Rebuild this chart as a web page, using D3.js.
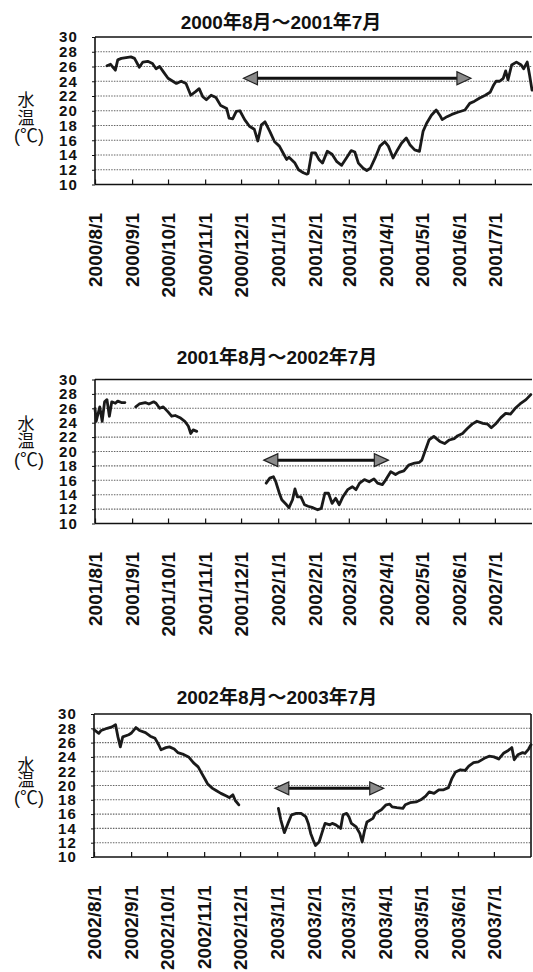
<!DOCTYPE html>
<html><head><meta charset="utf-8">
<script src="https://cdn.jsdelivr.net/npm/d3@7"></script>
<style>
html,body{margin:0;padding:0;background:#fff;}
svg{display:block;}
text{font-family:"Liberation Sans",Arial,"Noto Sans CJK JP",sans-serif;font-weight:bold;fill:#111;}
</style></head><body>
<svg id="chart" width="533" height="972"></svg>
<script>
// Water temperature, one panel per season (August to July)
const seasonTitles = ["2000年8月～2001年7月", "2001年8月～2002年7月", "2002年8月～2003年7月"];
const seasonStarts = ["2000-08-01", "2001-08-01", "2002-08-01"];
const yTicks = [10, 12, 14, 16, 18, 20, 22, 24, 26, 28, 30];

// Days since 1 August; a null temperature marks missing records
const days2000 = [10,13,17,19,22,26,30,33,37,40,44,48,51,54,57,61,65,68,72,76,80,84,87,90,93,97,101,105,110,112,115,118,121,125,129,133,136,139,142,146,150,154,157,160,162,167,170,174,177,178,181,184,187,190,194,198,202,206,210,214,217,220,224,227,230,234,238,242,245,249,252,256,260,263,267,271,274,277,281,285,288,290,294,298,303,309,313,317,321,326,330,333,335,338,341,343,345,348,352,356,358,361,363,365];
const temp2000 = [26.1,26.3,25.5,26.9,27.1,27.2,27.3,27.1,25.9,26.6,26.7,26.4,25.7,26.0,25.3,24.4,24.0,23.7,24.0,23.7,22.1,22.6,23.0,21.9,21.5,22.1,21.8,20.7,20.3,19.0,18.9,19.9,20.0,18.8,17.9,17.5,15.9,18.1,18.5,17.2,15.8,15.2,14.3,13.4,13.7,12.9,12.0,11.6,11.4,11.5,14.3,14.3,13.4,12.9,14.5,14.1,13.1,12.6,13.6,14.6,14.4,12.9,12.2,11.9,12.2,13.6,15.2,15.8,15.2,13.6,14.5,15.6,16.3,15.4,14.7,14.5,17.2,18.3,19.4,20.1,19.4,18.8,19.2,19.5,19.8,20.1,21.0,21.3,21.7,22.1,22.5,23.5,24.0,24.0,24.4,25.4,24.2,26.2,26.6,26.2,25.7,26.6,24.8,22.8];

const days2001 = [0,1,4,6,8,10,12,14,17,19,22,25,30,34,37,42,45,49,51,54,57,61,64,67,71,75,78,80,82,85,110,143,146,149,151,154,156,160,162,165,167,169,172,175,178,182,186,189,192,195,198,201,204,207,211,215,218,221,225,229,233,236,240,243,247,251,254,258,262,267,271,273,276,279,283,288,292,296,300,303,307,311,315,319,324,328,331,335,339,343,347,351,355,360,364];
const temp2001 = [26.0,24.2,26.2,24.2,26.9,27.2,24.9,26.9,26.7,27.0,26.8,26.8,null,26.2,26.6,26.8,26.6,26.9,26.7,26.0,26.2,25.5,24.9,25.0,24.7,24.2,23.5,22.5,23.0,22.8,null,15.6,16.3,16.5,15.8,14.2,13.3,12.6,12.2,13.3,14.8,13.7,13.7,12.6,12.4,12.2,11.9,12.1,14.2,14.2,12.8,13.5,12.6,13.7,14.7,15.1,14.7,15.6,16.1,15.8,16.2,15.6,15.4,16.1,17.2,16.8,17.1,17.3,18.1,18.4,18.5,18.8,20.2,21.6,22.1,21.4,21.1,21.6,21.8,22.2,22.5,23.2,23.8,24.2,23.9,23.8,23.3,23.9,24.7,25.3,25.2,26.0,26.6,27.2,27.9];

const days2002 = [0,4,6,11,15,18,20,22,24,29,31,35,38,43,47,51,54,56,60,63,67,70,74,79,83,87,90,93,95,99,102,106,111,113,116,118,121,135,154,156,159,162,165,169,173,177,179,181,183,185,188,191,193,197,199,202,206,208,211,213,215,219,222,224,226,228,233,235,240,244,247,249,253,258,260,264,269,273,277,280,284,288,292,296,299,302,306,310,313,317,321,326,330,334,338,342,346,349,351,354,358,360,363,365];
const temp2002 = [27.8,27.3,27.7,28.0,28.2,28.5,26.8,25.4,26.8,27.1,27.3,28.1,27.7,27.4,26.9,26.6,25.7,25.0,25.3,25.4,25.1,24.6,24.4,24.0,23.2,22.6,21.7,20.8,20.2,19.6,19.3,18.9,18.5,18.3,18.7,17.9,17.3,null,16.8,15.2,13.4,14.7,15.9,16.1,16.1,15.6,14.7,13.3,12.4,11.6,12.1,13.7,14.7,14.5,14.7,14.5,14.0,15.9,16.1,15.6,14.7,14.2,13.3,12.1,13.7,14.9,15.4,16.1,16.6,17.3,17.4,17.0,16.9,16.8,17.3,17.6,17.7,18.0,18.5,19.1,18.9,19.4,19.4,19.7,21.0,21.9,22.2,22.1,22.7,23.2,23.3,23.8,24.1,24.0,23.7,24.5,24.9,25.3,23.6,24.3,24.6,24.5,25.1,25.7];

// Double-headed arrows marking the cold-water period
const arrowFrom = ["2000-12-03", "2001-12-20", "2002-12-30"];
const arrowTo = ["2001-06-11", "2002-04-03", "2003-03-31"];
const arrowLevel = [24.4, 18.8, 19.6];

const seasonDays = [days2000, days2001, days2002];
const seasonTemps = [temp2000, temp2001, temp2002];

// Panel geometry
const panels = [
  {left: 95, right: 532, top: 37, bottom: 184.5, titleX: 281, titleY: 29, labY: [100, 117.5, 135.5], rightBorder: false},
  {left: 95, right: 532, top: 379.5, bottom: 523.5, titleX: 277, titleY: 364, labY: [424, 441, 460], rightBorder: false},
  {left: 94, right: 531, top: 714, bottom: 857, titleX: 277, titleY: 704, labY: [765, 780, 798], rightBorder: true}
];

const svg = d3.select("#chart");
const parse = d3.timeParse("%Y-%m-%d");
const fmt = d3.timeFormat("%Y/%-m/%-d");

panels.forEach((p, i) => {
  const start = parse(seasonStarts[i]);
  const end = d3.timeYear.offset(start, 1);
  const x = d3.scaleTime().domain([start, end]).range([p.left, p.right]);
  const y = d3.scaleLinear().domain([10, 30]).range([p.bottom, p.top]);
  const g = svg.append("g");

  // title
  g.append("text").attr("x", p.titleX).attr("y", p.titleY)
    .attr("text-anchor", "middle").style("font-size", "19px")
    .text(seasonTitles[i]);

  // y axis title
  const yt = g.append("g").style("font-size", "17px").attr("text-anchor", "middle");
  yt.append("text").attr("x", 26).attr("y", p.labY[0]).attr("dy", "0.36em").style("font-weight", "normal").text("水");
  yt.append("text").attr("x", 26).attr("y", p.labY[1]).attr("dy", "0.36em").style("font-weight", "normal").text("温");
  yt.append("text").attr("x", 29).attr("y", p.labY[2]).attr("dy", "0.36em").style("font-weight", "normal").style("font-size", "18px").text("(℃)");

  // dotted gridlines
  g.append("g").selectAll("line")
    .data(yTicks.filter(t => t > 10 && t < 30))
    .join("line")
    .attr("x1", p.left).attr("x2", p.right)
    .attr("y1", d => y(d)).attr("y2", d => y(d))
    .attr("stroke", "#666").attr("stroke-width", 1.1)
    .attr("stroke-dasharray", "1.5,1.2");

  // frame
  const frame = g.append("g").attr("stroke", "#111").attr("stroke-width", 1.6).attr("fill", "none");
  frame.append("line").attr("x1", p.left).attr("x2", p.right).attr("y1", y(30)).attr("y2", y(30));
  frame.append("line").attr("x1", p.left).attr("x2", p.right).attr("y1", y(10)).attr("y2", y(10));
  frame.append("line").attr("x1", p.left).attr("x2", p.left).attr("y1", y(30)).attr("y2", y(10));
  if (p.rightBorder) frame.append("line").attr("x1", p.right).attr("x2", p.right).attr("y1", y(30)).attr("y2", y(10));

  // y tick labels, stacked tightly like the printed axis
  const yAxis = d3.axisLeft(y).tickValues(yTicks).tickSize(3).tickPadding(14);
  const ya = g.append("g").attr("transform", `translate(${p.left},0)`).call(yAxis);
  ya.select(".domain").remove();
  ya.selectAll("line").attr("stroke", "#111");
  ya.selectAll("text").style("font-size", "15px").style("font-family", "'Liberation Sans',Arial,sans-serif")
    .style("font-weight", "bold").style("letter-spacing", "1.2px").attr("fill", "#111");

  // month ticks inside the bottom edge
  const months = d3.timeMonth.range(start, end);
  const xAxis = d3.axisTop(x).tickValues(months).tickSize(5).tickFormat("");
  const xa = g.append("g").attr("transform", `translate(0,${y(10)})`).call(xAxis);
  xa.select(".domain").remove();
  xa.selectAll("line").attr("stroke", "#111").attr("stroke-width", 1.2);

  // rotated month labels
  g.append("g").selectAll("text").data(months).join("text")
    .attr("transform", d => `translate(${x(d)},${p.bottom + 28.5}) rotate(-90)`)
    .attr("text-anchor", "end").attr("dy", "0.36em")
    .style("font-size", "19px")
    .text(d => fmt(d));

  // temperature line
  const pts = seasonDays[i].map((d, k) => ({date: d3.timeDay.offset(start, d), t: seasonTemps[i][k]}));
  const line = d3.line().defined(d => d.t !== null).x(d => x(d.date)).y(d => y(d.t));
  g.append("path").datum(pts).attr("d", line)
    .attr("fill", "none").attr("stroke", "#1a1a1a").attr("stroke-width", 2.8)
    .attr("stroke-linejoin", "round").attr("stroke-linecap", "round");

  // double-headed arrow
  const ax1 = x(parse(arrowFrom[i])), ax2 = x(parse(arrowTo[i])), ay = y(arrowLevel[i]);
  const hl = 14, hh = 6.5;
  g.append("line").attr("x1", ax1 + hl - 1).attr("x2", ax2 - hl + 1).attr("y1", ay).attr("y2", ay)
    .attr("stroke", "#111").attr("stroke-width", 3);
  g.append("path")
    .attr("d", `M${ax1},${ay}L${ax1 + hl},${ay - hh}L${ax1 + hl},${ay + hh}Z M${ax2},${ay}L${ax2 - hl},${ay - hh}L${ax2 - hl},${ay + hh}Z`)
    .attr("fill", "#8a8a8a").attr("stroke", "#222").attr("stroke-width", 1.2);
});
</script>
</body></html>
